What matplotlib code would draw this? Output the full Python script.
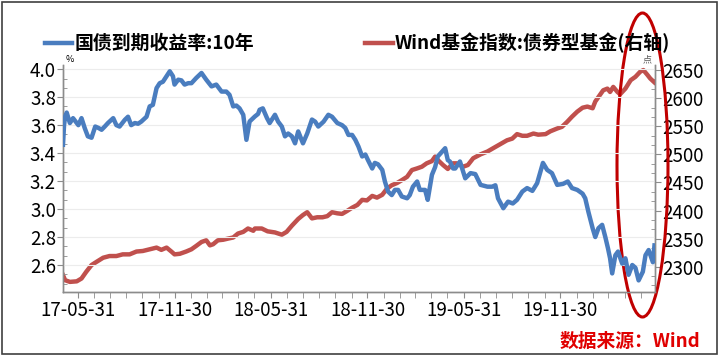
import numpy as np
import pandas as pd
import matplotlib
matplotlib.use('Agg')
import matplotlib.pyplot as plt
import matplotlib.dates as mdates
from matplotlib.patches import Ellipse, Rectangle
from matplotlib.ticker import FixedLocator, AutoMinorLocator, FormatStrFormatter

plt.rcParams['font.family'] = ['Noto Sans CJK SC', 'DejaVu Sans']

# ── 国债到期收益率:10年 (%) ───────────────────────────────────────────
bond_dates = [
    '2017-05-03', '2017-05-05', '2017-05-07', '2017-05-10', '2017-05-16', '2017-05-22',
    '2017-06-01', '2017-06-07', '2017-06-13', '2017-06-19', '2017-06-26', '2017-07-03',
    '2017-07-09', '2017-07-15', '2017-07-21', '2017-07-27', '2017-08-06', '2017-08-12',
    '2017-08-18', '2017-08-28', '2017-09-03', '2017-09-09', '2017-09-16', '2017-09-22',
    '2017-09-28', '2017-10-08', '2017-10-14', '2017-10-20', '2017-10-27', '2017-11-02',
    '2017-11-08', '2017-11-15', '2017-11-21', '2017-11-27', '2017-11-30', '2017-12-07',
    '2017-12-13', '2017-12-19', '2017-12-26', '2018-01-01', '2018-01-10', '2018-01-20',
    '2018-01-29', '2018-02-08', '2018-02-17', '2018-02-27', '2018-03-08', '2018-03-14',
    '2018-03-21', '2018-03-27', '2018-04-02', '2018-04-09', '2018-04-15', '2018-04-21',
    '2018-05-01', '2018-05-07', '2018-05-10', '2018-05-16', '2018-05-24', '2018-05-29',
    '2018-06-08', '2018-06-14', '2018-06-21', '2018-06-27', '2018-07-03', '2018-07-10',
    '2018-07-16', '2018-07-22', '2018-07-31', '2018-08-08', '2018-08-17', '2018-08-23',
    '2018-08-29', '2018-09-08', '2018-09-17', '2018-09-24', '2018-10-04', '2018-10-13',
    '2018-10-19', '2018-10-25', '2018-11-01', '2018-11-07', '2018-11-13', '2018-11-20',
    '2018-11-26', '2018-12-01', '2018-12-09', '2018-12-14', '2018-12-20', '2018-12-28',
    '2019-01-02', '2019-01-08', '2019-01-15', '2019-01-21', '2019-01-27', '2019-02-03',
    '2019-02-13', '2019-02-18', '2019-02-24', '2019-03-04', '2019-03-09', '2019-03-19',
    '2019-03-24', '2019-04-01', '2019-04-07', '2019-04-12', '2019-04-20', '2019-04-26',
    '2019-05-01', '2019-05-05', '2019-05-11', '2019-05-15', '2019-05-24', '2019-06-03',
    '2019-06-13', '2019-06-22', '2019-07-02', '2019-07-15', '2019-07-24', '2019-07-30',
    '2019-08-04', '2019-08-14', '2019-08-23', '2019-09-01', '2019-09-09', '2019-09-19',
    '2019-09-28', '2019-10-08', '2019-10-17', '2019-10-28', '2019-11-05', '2019-11-14',
    '2019-11-24', '2019-12-05', '2019-12-14', '2019-12-22', '2020-01-01', '2020-01-11',
    '2020-01-16', '2020-01-22', '2020-01-30', '2020-02-04', '2020-02-10', '2020-02-17',
    '2020-02-23', '2020-02-28', '2020-03-03', '2020-03-07', '2020-03-13', '2020-03-18',
    '2020-03-26', '2020-04-01', '2020-04-07', '2020-04-14', '2020-04-20', '2020-04-26',
    '2020-05-04', '2020-05-09', '2020-05-15', '2020-05-23', '2020-05-26',
]
bond_yield = [
    3.46, 3.60, 3.66, 3.69, 3.615, 3.65,
    3.60, 3.65, 3.58, 3.52, 3.51, 3.59,
    3.58, 3.567, 3.59, 3.615, 3.65, 3.60,
    3.59, 3.638, 3.66, 3.60, 3.615, 3.61,
    3.625, 3.66, 3.734, 3.745, 3.865, 3.90,
    3.91, 3.95, 3.985, 3.95, 3.89, 3.925,
    3.92, 3.89, 3.90, 3.90, 3.937, 3.973,
    3.925, 3.877, 3.89, 3.84, 3.84, 3.817,
    3.734, 3.74, 3.72, 3.674, 3.495, 3.626,
    3.662, 3.68, 3.71, 3.72, 3.65, 3.615,
    3.674, 3.625, 3.59, 3.52, 3.54, 3.52,
    3.47, 3.555, 3.47, 3.54, 3.64, 3.625,
    3.59, 3.625, 3.674, 3.66, 3.615, 3.60,
    3.58, 3.53, 3.53, 3.495, 3.447, 3.376,
    3.39, 3.35, 3.29, 3.33, 3.32, 3.28,
    3.197, 3.125, 3.10, 3.137, 3.137, 3.09,
    3.077, 3.10, 3.16, 3.197, 3.137, 3.137,
    3.066, 3.245, 3.30, 3.376, 3.41, 3.435,
    3.35, 3.34, 3.29, 3.29, 3.34, 3.22,
    3.257, 3.25, 3.173, 3.16, 3.16, 3.17,
    3.077, 3.006, 3.053, 3.04, 3.066, 3.125,
    3.15, 3.13, 3.185, 3.33, 3.28, 3.257,
    3.173, 3.18, 3.197, 3.15, 3.137, 3.11,
    3.077, 2.98, 2.863, 2.80, 2.863, 2.887,
    2.80, 2.72, 2.648, 2.54, 2.67, 2.696,
    2.61, 2.648, 2.53, 2.60, 2.58, 2.49,
    2.552, 2.67, 2.707, 2.62, 2.74,
]

# ── Wind基金指数:债券型基金 (点, 右轴) ─────────────────────────────────
fund_dates = [
    '2017-05-03', '2017-05-07', '2017-05-16', '2017-05-29', '2017-06-07', '2017-06-16',
    '2017-06-26', '2017-07-06', '2017-07-18', '2017-07-30', '2017-08-12', '2017-08-24',
    '2017-09-06', '2017-09-19', '2017-10-01', '2017-10-14', '2017-10-27', '2017-11-05',
    '2017-11-15', '2017-11-24', '2017-11-30', '2017-12-10', '2017-12-22', '2018-01-01',
    '2018-01-10', '2018-01-20', '2018-01-29', '2018-02-05', '2018-02-11', '2018-02-20',
    '2018-03-02', '2018-03-11', '2018-03-21', '2018-03-30', '2018-04-09', '2018-04-18',
    '2018-04-28', '2018-05-01', '2018-05-14', '2018-05-25', '2018-06-08', '2018-06-21',
    '2018-06-30', '2018-07-10', '2018-07-22', '2018-07-31', '2018-08-08', '2018-08-17',
    '2018-08-27', '2018-09-06', '2018-09-15', '2018-09-24', '2018-10-04', '2018-10-13',
    '2018-10-22', '2018-11-01', '2018-11-11', '2018-11-20', '2018-11-29', '2018-12-09',
    '2018-12-18', '2018-12-28', '2019-01-06', '2019-01-15', '2019-01-25', '2019-02-03',
    '2019-02-13', '2019-02-22', '2019-03-04', '2019-03-13', '2019-03-22', '2019-04-01',
    '2019-04-07', '2019-04-12', '2019-04-22', '2019-05-01', '2019-05-05', '2019-05-11',
    '2019-05-18', '2019-05-30', '2019-06-08', '2019-06-18', '2019-07-02', '2019-07-15',
    '2019-07-26', '2019-08-08', '2019-08-21', '2019-08-31', '2019-09-09', '2019-09-19',
    '2019-09-28', '2019-10-10', '2019-10-19', '2019-11-02', '2019-11-11', '2019-11-24',
    '2019-12-03', '2019-12-13', '2019-12-22', '2020-01-01', '2020-01-11', '2020-01-20',
    '2020-01-30', '2020-02-04', '2020-02-10', '2020-02-19', '2020-02-27', '2020-03-03',
    '2020-03-09', '2020-03-17', '2020-03-22', '2020-04-01', '2020-04-11', '2020-04-20',
    '2020-04-29', '2020-05-05', '2020-05-13', '2020-05-18', '2020-05-26',
]
fund_index = [
    2285, 2276, 2273, 2274, 2279, 2291,
    2303, 2309, 2316, 2319, 2319, 2322,
    2322, 2327, 2328, 2331, 2334, 2330,
    2334, 2327, 2322, 2323, 2327, 2331,
    2337, 2344, 2347, 2338, 2340, 2347,
    2348, 2350, 2352, 2359, 2362, 2368,
    2364, 2368, 2368, 2363, 2361, 2357,
    2362, 2373, 2385, 2392, 2397, 2386,
    2388, 2388, 2390, 2397, 2395, 2394,
    2399, 2405, 2410, 2419, 2418, 2426,
    2423, 2428, 2439, 2445, 2449, 2454,
    2460, 2472, 2475, 2478, 2484, 2488,
    2496, 2490, 2481, 2474, 2478, 2484,
    2484, 2478, 2481, 2493, 2500, 2505,
    2511, 2518, 2525, 2528, 2536, 2533,
    2533, 2537, 2535, 2536, 2541, 2546,
    2549, 2558, 2567, 2576, 2583, 2585,
    2582, 2594, 2602, 2614, 2617, 2611,
    2620, 2611, 2607, 2617, 2632, 2638,
    2647, 2650, 2641, 2635, 2628,
]

x_tick_dates = ['2017-05-31', '2017-11-30', '2018-05-31', '2018-11-30', '2019-05-31', '2019-11-30']
left_ticks = [2.6, 2.8, 3.0, 3.2, 3.4, 3.6, 3.8, 4.0]
right_ticks = [2300, 2350, 2400, 2450, 2500, 2550, 2600, 2650]

BLUE = '#4a7dbf'
RED = '#c0504d'
AXIS_C = '#8c8c8c'

fig = plt.figure(figsize=(7.2, 3.59), dpi=100)
ax = fig.add_axes([63 / 720, 1 - 292 / 359, (655 - 63) / 720, (292 - 65) / 359])
ax2 = ax.twinx()

bd = pd.to_datetime(bond_dates)
fd = pd.to_datetime(fund_dates)

l1, = ax.plot(bd, bond_yield, color=BLUE, lw=3.2, solid_joinstyle='round', zorder=3)
l2, = ax2.plot(fd, fund_index, color=RED, lw=3.2, solid_joinstyle='round', zorder=3)

ax.set_zorder(ax2.get_zorder() + 1)
ax.patch.set_visible(False)

ax.set_xlim(pd.Timestamp('2017-05-03'), pd.Timestamp('2020-05-27'))
ax.set_ylim(2.407, 4.03)
ax2.set_ylim(2255, 2659)

ax.xaxis.set_major_locator(FixedLocator(mdates.date2num(pd.to_datetime(x_tick_dates))))
ax.xaxis.set_major_formatter(mdates.DateFormatter('%y-%m-%d'))
month_ends = pd.date_range('2017-05-31', '2020-05-31', freq='ME')
ax.xaxis.set_minor_locator(FixedLocator(mdates.date2num(month_ends)))

ax.set_yticks(left_ticks)
ax.yaxis.set_major_formatter(FormatStrFormatter('%.1f'))
ax.yaxis.set_minor_locator(AutoMinorLocator(3))
ax2.set_yticks(right_ticks)
ax2.yaxis.set_minor_locator(AutoMinorLocator(3))

ax.grid(True, axis='y', color='#ececec', lw=0.8, zorder=0)

for a in (ax, ax2):
    a.spines['top'].set_visible(False)
    for s in ('left', 'right', 'bottom'):
        a.spines[s].set_color(AXIS_C)
        a.spines[s].set_linewidth(1.0)
    a.tick_params(axis='both', which='major', labelsize=13.5, color=AXIS_C, length=4, pad=1)
    a.tick_params(axis='y', which='minor', color=AXIS_C, length=3, direction='in')
ax.tick_params(axis='x', which='minor', color=AXIS_C, length=4)
ax.tick_params(axis='x', which='major', pad=2)

ax.text(0.005, 1.005, '%', transform=ax.transAxes, fontsize=6.5, ha='left', va='bottom')
ax.text(0.995, 1.005, '点', transform=ax.transAxes, fontsize=6.5, ha='right', va='bottom',
        color='#555555')

fig.legend([l1, l2], ['国债到期收益率:10年', 'Wind基金指数:债券型基金(右轴)'],
           loc='center left', bbox_to_anchor=(37 / 720, 1 - 43 / 359), ncol=2,
           frameon=False, prop={'size': 13.6, 'weight': 'bold'},
           handlelength=1.45, handletextpad=0.12, columnspacing=5.9, borderaxespad=0)

# red ellipse highlighting recent period
fig.add_artist(Ellipse((642.5 / 720, 1 - 165 / 359), 51 / 720, 304 / 359,
                       transform=fig.transFigure, fill=False, ec='#c00000', lw=2.2))

fig.text(700 / 720, 1 - 341 / 359, '数据来源：Wind', color='#e00000', fontsize=13.5,
         fontweight='bold', ha='right', va='center')

fig.add_artist(Rectangle((1.5 / 720, 1 - 354 / 359), 715 / 720, 352 / 359,
                         transform=fig.transFigure, fill=False, ec='#404040', lw=1.2))

fig.savefig('out.png', dpi=100)
